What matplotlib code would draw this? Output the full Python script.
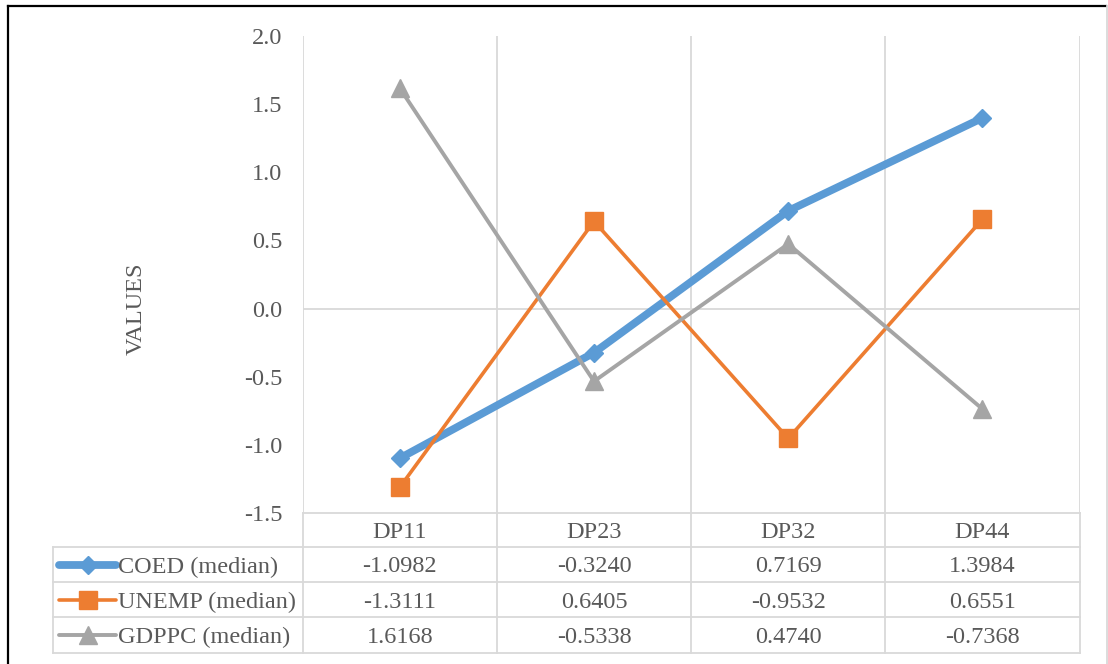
import matplotlib
matplotlib.use("Agg")
import matplotlib.pyplot as plt
from matplotlib.lines import Line2D
from matplotlib.transforms import blended_transform_factory

# ---- data -------------------------------------------------------------
categories = ["DP11", "DP23", "DP32", "DP44"]
series_names = ["COED (median)", "UNEMP (median)", "GDPPC (median)"]
coed = [-1.0982, -0.3240, 0.7169, 1.3984]
unemp = [-1.3111, 0.6405, -0.9532, 0.6551]
gdppc = [1.6168, -0.5338, 0.4740, -0.7368]
y_ticks = [2.0, 1.5, 1.0, 0.5, 0.0, -0.5, -1.0, -1.5]
y_label = "VALUES"

# ---- style ------------------------------------------------------------
W, H, DPI = 1108, 664, 100
FONT = "Liberation Serif"
TXT = "#595959"
GRID = "#D9D9D9"
FS = 17.5

styles = [
    dict(color="#5B9BD5", lw=5.6, marker="D", ms=9.0),
    dict(color="#ED7D31", lw=2.6, marker="s", ms=12.5),
    dict(color="#A5A5A5", lw=2.8, marker="^", ms=13.5),
]
series = [coed, unemp, gdppc]

plt.rcParams["font.family"] = [FONT, "DejaVu Sans"]

fig = plt.figure(figsize=(W / DPI, H / DPI), dpi=DPI)

# plot area in pixel coordinates
px_left, px_right, px_top, px_bottom = 302.7, 1079.5, 36.0, 513.0
ax = fig.add_axes([px_left / W, 1 - px_bottom / H,
                   (px_right - px_left) / W, (px_bottom - px_top) / H])
n = len(categories)
xs = [i + 0.5 for i in range(n)]
ax.set_xlim(0, n)
ax.set_ylim(-1.5, 2.0)
ax.set_yticks(y_ticks)
ax.set_yticklabels([f"{v:.1f}" for v in y_ticks], fontsize=FS, color=TXT)
ax.tick_params(axis="y", length=0, pad=14.5)
ax.set_xticks([])
for s in ax.spines.values():
    s.set_visible(False)

# vertical category gridlines and horizontal zero line
for b in range(n + 1):
    ax.axvline(b, color=GRID, lw=1.3, zorder=1)
ax.axhline(0, color=GRID, lw=1.3, zorder=1)

for vals, st in zip(series, styles):
    ax.plot(xs, vals, color=st["color"], lw=st["lw"], marker=st["marker"],
            ms=st["ms"], mfc=st["color"], mec=st["color"], zorder=3,
            solid_joinstyle="miter", clip_on=False)

pix = fig.transFigure
def fy(p):
    return 1 - p / H

# axis title, centred on the zero line
fig.text(136 / W, fy(309), y_label, rotation=90, ha="center", va="center",
         fontsize=FS, color=TXT)

# ---- data table below the plot -----------------------------------------
# x in category units (shared with the plot), y in figure pixels
trans = blended_transform_factory(ax.transData, pix)
unit_px = (px_right - px_left) / n
tab_left = -(px_left - 53) / unit_px
row_edges = [513.0, 547.0, 582.0, 617.0, 652.5]

def hline(x0, x1, ypx):
    fig.add_artist(Line2D([x0, x1], [fy(ypx), fy(ypx)], transform=trans,
                          color=GRID, lw=1.3))

def vline(x, y0, y1):
    fig.add_artist(Line2D([x, x], [fy(y0), fy(y1)], transform=trans,
                          color=GRID, lw=1.3))

hline(0, n, row_edges[0])
for ypx in row_edges[1:]:
    hline(tab_left, n, ypx)
for b in range(n + 1):
    vline(b, row_edges[0], row_edges[-1])
vline(tab_left, row_edges[1], row_edges[-1])

# header row: category names
hy = (row_edges[0] + row_edges[1]) / 2
for x, c in zip(xs, categories):
    fig.text(x, fy(hy), c, transform=trans, ha="center", va="center_baseline",
             fontsize=FS, color=TXT)

# series rows with legend keys
key_x0 = tab_left + (59 - 53) / unit_px
key_x1 = tab_left + (116 - 53) / unit_px
key_xm = (key_x0 + key_x1) / 2
name_x = tab_left + (118 - 53) / unit_px
for r, (name, vals, st) in enumerate(zip(series_names, series, styles)):
    cy = fy((row_edges[r + 1] + row_edges[r + 2]) / 2)
    fig.add_artist(Line2D([key_x0, key_x1], [cy, cy], transform=trans,
                          color=st["color"], lw=st["lw"],
                          solid_capstyle="round"))
    fig.add_artist(Line2D([key_xm], [cy], transform=trans, marker=st["marker"],
                          ms=st["ms"], color=st["color"], mec=st["color"]))
    fig.text(name_x, cy, name, transform=trans, ha="left",
             va="center_baseline", fontsize=FS, color=TXT)
    for x, v in zip(xs, vals):
        fig.text(x, cy, f"{v:.4f}", transform=trans, ha="center",
                 va="center_baseline", fontsize=FS, color=TXT)

# outer chart frame
fig.add_artist(Line2D([8 / W, 8 / W], [0, fy(6)], transform=pix,
                      color="black", lw=1.6))
fig.add_artist(Line2D([8 / W, 1106 / W], [fy(6), fy(6)], transform=pix,
                      color="black", lw=1.6))
fig.add_artist(Line2D([1107 / W, 1107 / W], [0, fy(6)], transform=pix,
                      color=GRID, lw=1.3))

fig.savefig("out.png", dpi=DPI)
